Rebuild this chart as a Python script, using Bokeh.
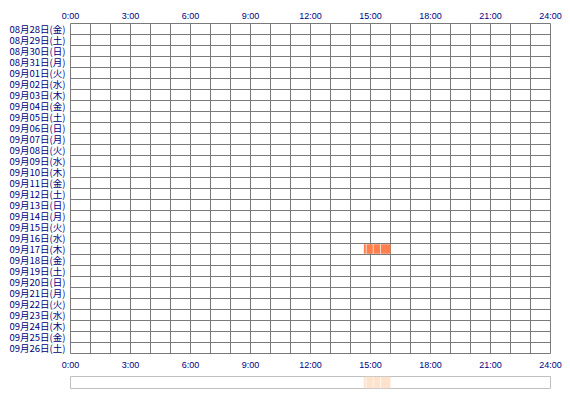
from bokeh.plotting import figure
from bokeh.models import Range1d, FixedTicker, LinearAxis
from bokeh.layouts import column
from bokeh.embed import file_html
from bokeh.resources import INLINE

# Row labels (dates), top to bottom
days = ["08月28日(金)", "08月29日(土)", "08月30日(日)", "08月31日(月)",
        "09月01日(火)", "09月02日(水)", "09月03日(木)", "09月04日(金)",
        "09月05日(土)", "09月06日(日)", "09月07日(月)", "09月08日(火)",
        "09月09日(水)", "09月10日(木)", "09月11日(金)", "09月12日(土)",
        "09月13日(日)", "09月14日(月)", "09月15日(火)", "09月16日(水)",
        "09月17日(木)", "09月18日(金)", "09月19日(土)", "09月20日(日)",
        "09月21日(月)", "09月22日(火)", "09月23日(水)", "09月24日(木)",
        "09月25日(金)", "09月26日(土)"]

# Time ticks (hours) and labels
hour_ticks = [0, 3, 6, 9, 12, 15, 18, 21, 24]
hour_labels = ["0:00", "3:00", "6:00", "9:00", "12:00", "15:00", "18:00", "21:00", "24:00"]

# Activity segments (day label, start minute, end minute)
seg_day = ["09月17日(木)", "09月17日(木)", "09月17日(木)", "09月17日(木)"]
seg_start_min = [880, 888, 909, 931]
seg_end_min = [886, 907, 929, 960]

TEXT = "#000080"
GRID = "#7a7a7a"
FONT = "Noto Sans CJK JP"
n = len(days)

row_idx = [days.index(d) for d in seg_day]
left = [s / 60 for s in seg_start_min]
right = [e / 60 for e in seg_end_min]
bottom = [i + 0.06 for i in row_idx]
top = [i + 0.94 for i in row_idx]

p = figure(width=562, height=372, output_backend="svg", toolbar_location=None,
           x_range=Range1d(0, 24), y_range=Range1d(n, 0),
           min_border_left=70, min_border_right=12, min_border_top=23,
           min_border_bottom=19, x_axis_location="below")
p.background_fill_color = "white"
p.border_fill_color = "white"
p.outline_line_color = GRID
p.outline_line_width = 1

p.quad(left=left, right=right, bottom=bottom, top=top,
       fill_color="#ff7f4f", line_color=None)

def no_ticks(ax):
    ax.axis_line_color = None
    ax.major_tick_line_color = None
    ax.minor_tick_line_color = None
    ax.major_tick_out = 0
    ax.major_tick_in = 0
    ax.minor_tick_out = 0
    ax.minor_tick_in = 0
    ax.major_label_text_color = TEXT

def style_x(ax):
    ax.ticker = FixedTicker(ticks=hour_ticks)
    ax.major_label_overrides = {t: l for t, l in zip(hour_ticks, hour_labels)}
    no_ticks(ax)
    ax.major_label_text_font = "Liberation Sans"
    ax.major_label_text_font_size = "9px"

style_x(p.xaxis[0])
p.xaxis[0].major_label_standoff = 6
top_ax = LinearAxis()
style_x(top_ax)
top_ax.major_label_standoff = 3
p.add_layout(top_ax, "above")

ya = p.yaxis[0]
ya.ticker = FixedTicker(ticks=[i + 0.5 for i in range(n)])
ya.major_label_overrides = {i + 0.5: d for i, d in enumerate(days)}
no_ticks(ya)
ya.major_label_text_font = FONT
ya.major_label_text_font_size = "9.5px"
ya.major_label_standoff = 5

p.xgrid.ticker = FixedTicker(ticks=list(range(25)))
p.ygrid.ticker = FixedTicker(ticks=list(range(n + 1)))
p.xgrid.grid_line_color = GRID
p.ygrid.grid_line_color = GRID
p.xgrid.grid_line_width = 1
p.ygrid.grid_line_width = 1

# Summary strip
s = figure(width=562, height=20, output_backend="svg", toolbar_location=None,
           x_range=Range1d(0, 24), y_range=Range1d(0, 1),
           min_border_left=70, min_border_right=12, min_border_top=4,
           min_border_bottom=4)
s.axis.visible = False
s.grid.visible = False
s.background_fill_color = "white"
s.border_fill_color = "white"
s.outline_line_color = "#c0c0c0"
s.quad(left=left, right=right, bottom=[0] * len(left), top=[1] * len(left),
       fill_color="#ffe2cc", line_color=None)

layout = column(p, s, spacing=0)
open("out.html", "w").write(file_html(layout, INLINE))
